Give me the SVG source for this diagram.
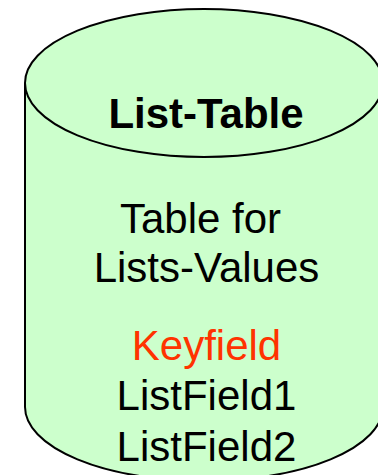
<svg xmlns="http://www.w3.org/2000/svg" width="378" height="475" viewBox="0 0 378 475">
<style>
.shape{fill:#CCFFCC;stroke:#000;stroke-width:2}
text{font-family:"Liberation Sans",Arial,sans-serif;font-size:42px;text-anchor:middle;fill:#000}
.title{font-weight:bold}
.key{fill:#FF3300}
</style>
<g id="list-table">
<path class="shape" d="M25,83 L25,407 A179,74 0 0 0 383,407 L383,83"/>
<ellipse class="shape" cx="204" cy="83" rx="179" ry="74"/>
<text class="title" x="206" y="128">List-Table</text>
<text x="200.5" y="233">Table for</text>
<text x="206.5" y="282">Lists-Values</text>
<text class="key" x="206.5" y="360">Keyfield</text>
<text x="206.5" y="410">ListField1</text>
<text x="206.5" y="461">ListField2</text>
</g>
<g id="connectors"/>
</svg>
